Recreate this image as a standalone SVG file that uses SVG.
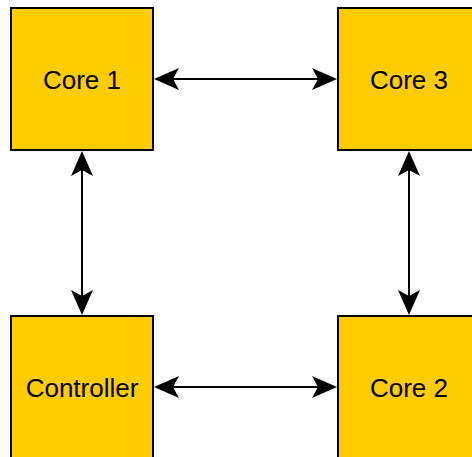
<svg xmlns="http://www.w3.org/2000/svg" width="472" height="457" viewBox="0 0 472 457">
  <style>
    .box { fill: #FFCC00; stroke: #000000; stroke-width: 2; }
    .label { font-family: "Liberation Sans", Arial, sans-serif; font-size: 26px; fill: #000000; text-anchor: middle; }
    .link { fill: none; stroke: #000000; stroke-width: 2; marker-start: url(#head); marker-end: url(#head); }
  </style>
  <defs>
    <!-- filled arrowhead; reference point sits at the notch -->
    <marker id="head" markerUnits="userSpaceOnUse" viewBox="-7 -12 27 24" refX="0" refY="0" markerWidth="27" markerHeight="24" orient="auto-start-reverse">
      <path d="M19,0 L-6,-11 L0,0 L-6,11 Z" fill="#000000"/>
    </marker>
  </defs>

  <rect width="472" height="457" fill="#FFFFFF"/>

  <g id="connectors">
    <path class="link" d="M173,79 L318,79"/>
    <path class="link" d="M173,387 L318,387"/>
    <path class="link" d="M82,170 L82,296"/>
    <path class="link" d="M409,170 L409,296"/>
  </g>

  <g id="core1">
    <rect class="box" x="11" y="8" width="142" height="142"/>
    <text class="label" x="82" y="89">Core 1</text>
  </g>
  <g id="core3">
    <rect class="box" x="338" y="8" width="142" height="142"/>
    <text class="label" x="409" y="89">Core 3</text>
  </g>
  <g id="controller">
    <rect class="box" x="11" y="316" width="142" height="142"/>
    <text class="label" x="82" y="397">Controller</text>
  </g>
  <g id="core2">
    <rect class="box" x="338" y="316" width="142" height="142"/>
    <text class="label" x="409" y="397">Core 2</text>
  </g>
</svg>
